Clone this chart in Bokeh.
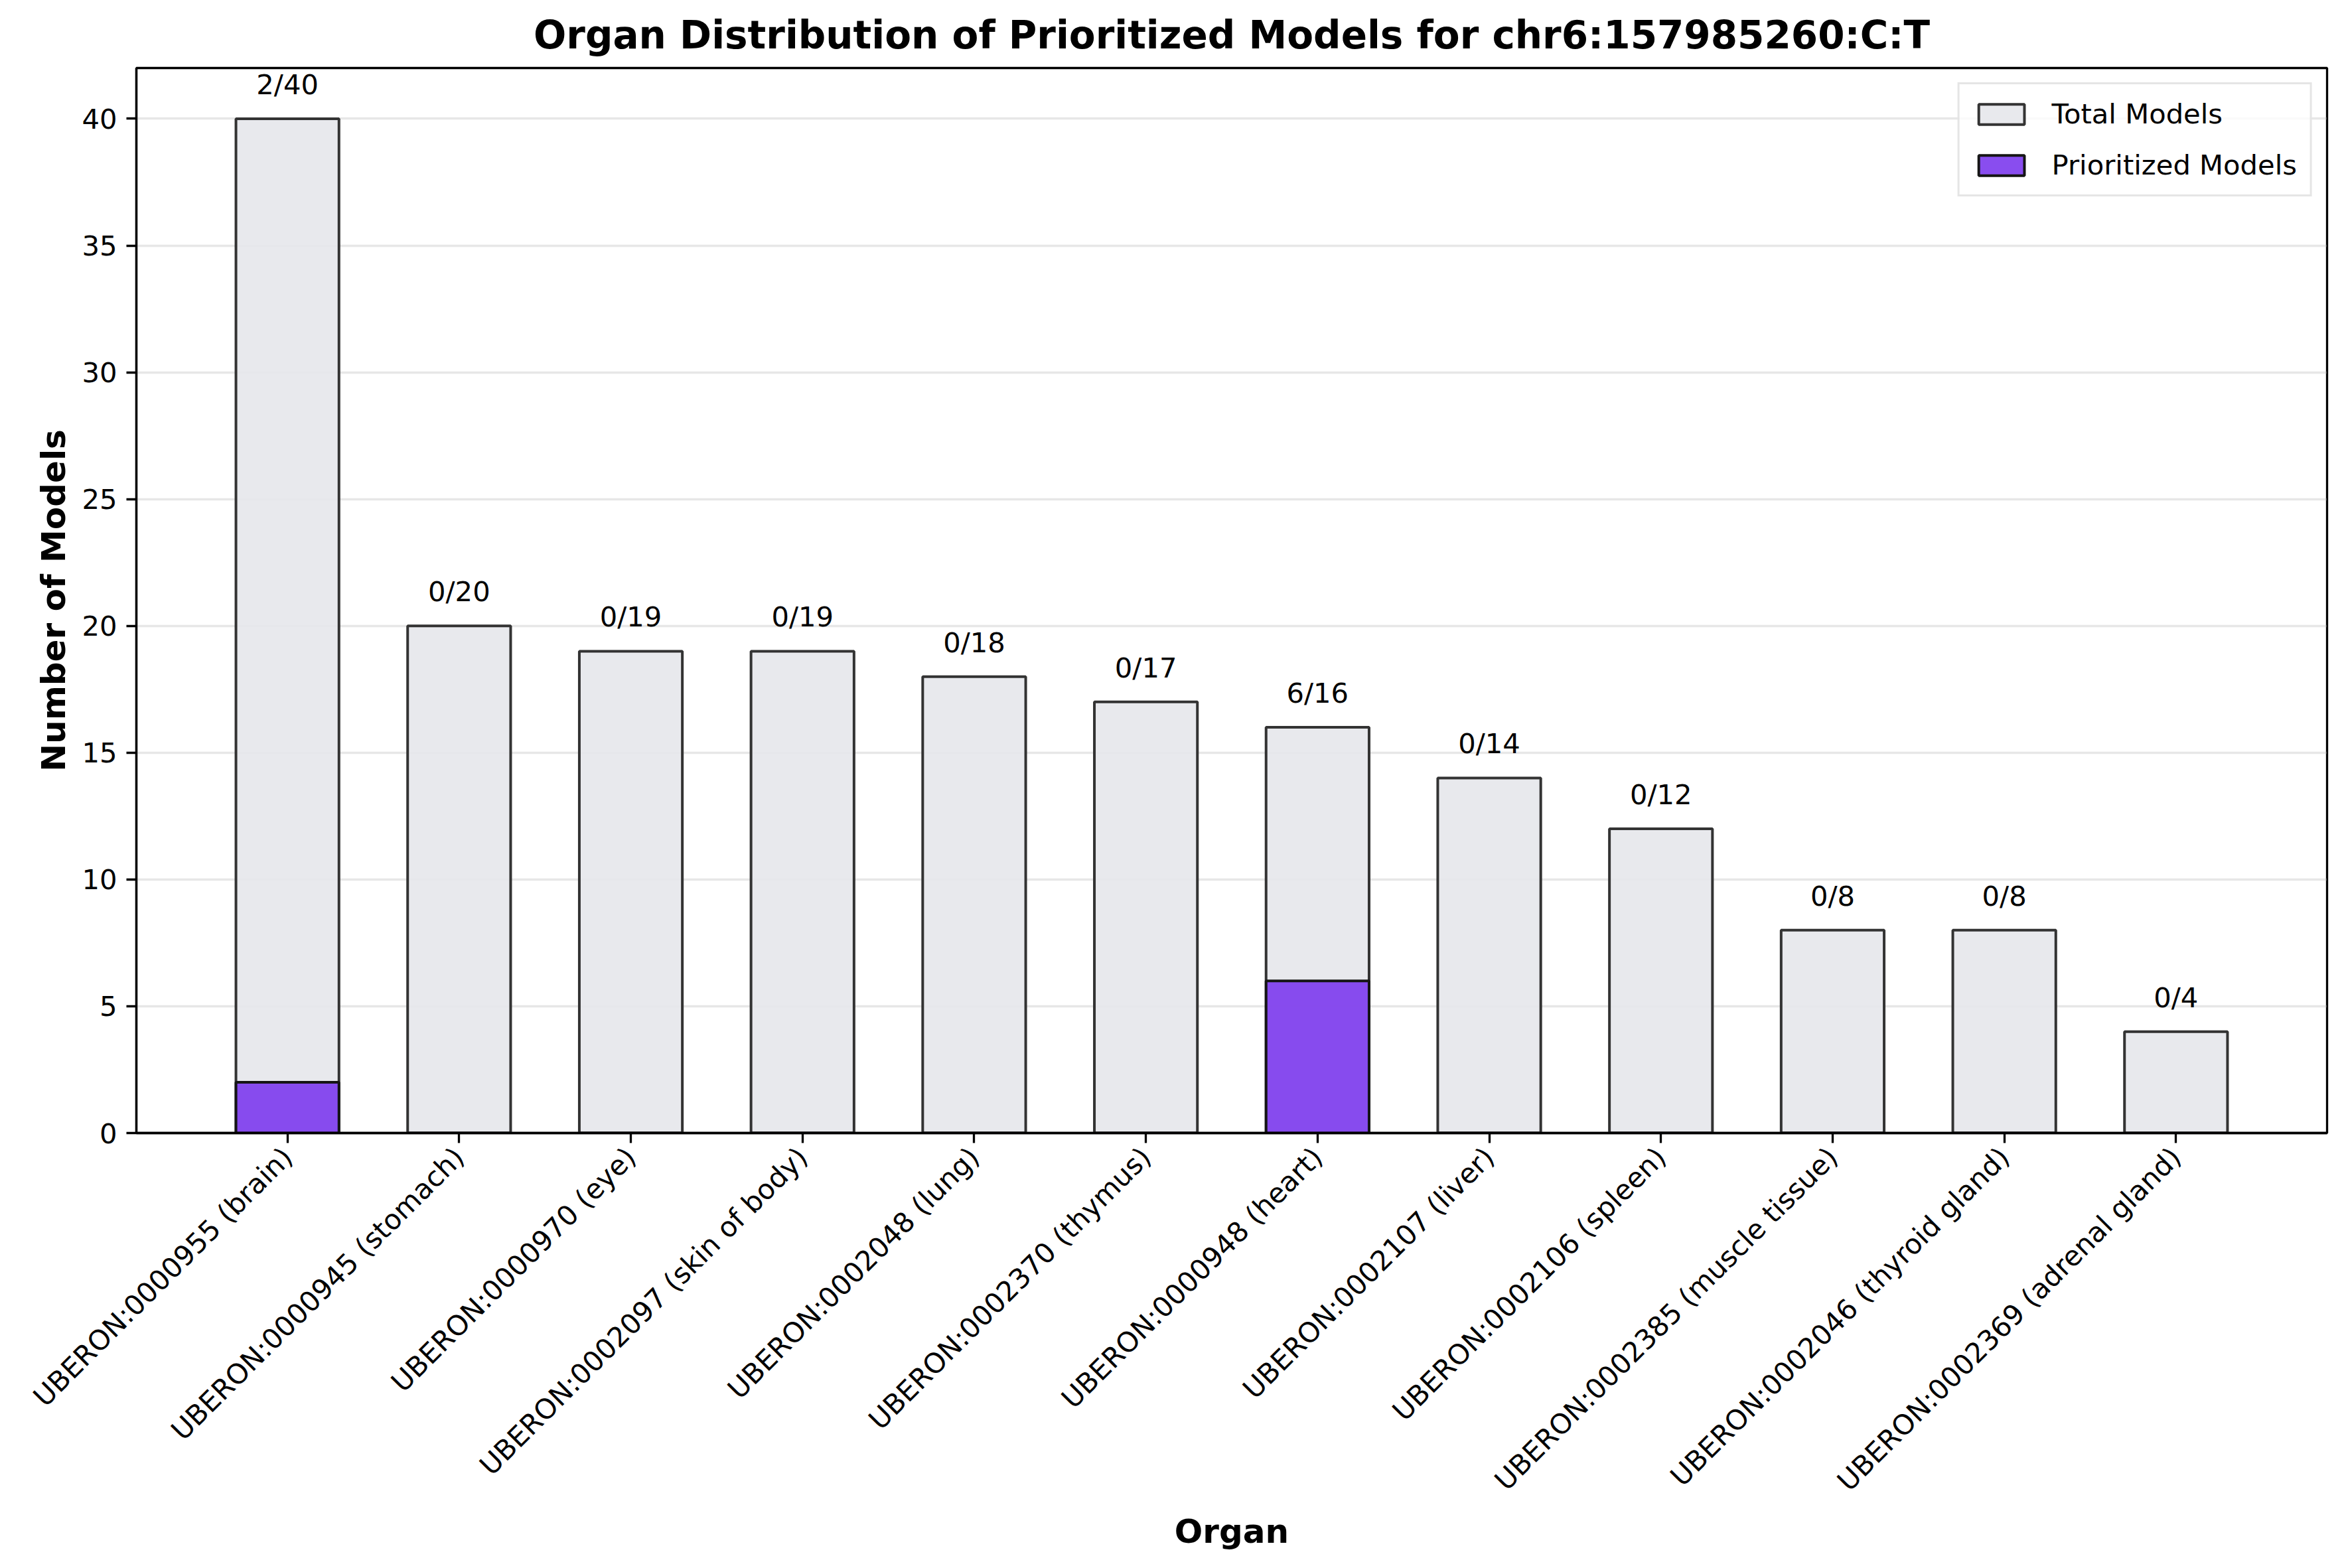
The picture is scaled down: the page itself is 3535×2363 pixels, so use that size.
import math
from bokeh.plotting import figure
from bokeh.models import Range1d, FixedTicker, ColumnDataSource, LabelSet, Legend, LegendItem
from bokeh.core.properties import value
from bokeh.embed import file_html
from bokeh.resources import INLINE

organs = [
    "UBERON:0000955 (brain)",
    "UBERON:0000945 (stomach)",
    "UBERON:0000970 (eye)",
    "UBERON:0002097 (skin of body)",
    "UBERON:0002048 (lung)",
    "UBERON:0002370 (thymus)",
    "UBERON:0000948 (heart)",
    "UBERON:0002107 (liver)",
    "UBERON:0002106 (spleen)",
    "UBERON:0002385 (muscle tissue)",
    "UBERON:0002046 (thyroid gland)",
    "UBERON:0002369 (adrenal gland)",
]
total_models = [40, 20, 19, 19, 18, 17, 16, 14, 12, 8, 8, 4]
prioritized_models = [2, 0, 0, 0, 0, 0, 6, 0, 0, 0, 0, 0]
y_ticks = [0, 5, 10, 15, 20, 25, 30, 35, 40]

FONT = "DejaVu Sans"
idx = list(range(len(organs)))
labels = [f"{p}/{t}" for p, t in zip(prioritized_models, total_models)]

src = ColumnDataSource(dict(
    x=idx, total=total_models, prio=prioritized_models,
    label=labels, label_y=[t + 0.97 for t in total_models],
))

p = figure(
    width=3519, height=2347,
    x_range=Range1d(-0.88, 11.88), y_range=Range1d(0, 42),
    output_backend="svg", toolbar_location=None,
    min_border_left=205, min_border_right=13, min_border_top=99, min_border_bottom=640,
    title="Organ Distribution of Prioritized Models for chr6:157985260:C:T",
)
p.title.align = "center"
p.title.text_font = FONT
p.title.text_font_size = "58px"
p.title.text_font_style = "bold"
p.title.text_color = "black"
p.title.standoff = 32

r_total = p.vbar(x="x", top="total", width=0.6, source=src,
                 fill_color="#e5e7eb", fill_alpha=0.9,
                 line_color="#333333", line_width=4)
r_prio = p.vbar(x="x", top="prio", width=0.6, source=src,
                fill_color="#7c3aed", fill_alpha=0.9,
                line_color="#151515", line_width=4)

lbl = LabelSet(x="x", y="label_y", text="label", source=src,
               text_align="center", text_baseline="alphabetic",
               text_font=value(FONT), text_font_size=value("41.7px"), text_color="black")
p.add_layout(lbl)

# axes
p.xaxis.ticker = FixedTicker(ticks=idx)
p.xaxis.major_label_overrides = {i: o for i, o in zip(idx, organs)}
p.xaxis.major_label_orientation = math.pi / 4
p.yaxis.ticker = FixedTicker(ticks=y_ticks)
for ax in (p.xaxis, p.yaxis):
    ax.major_label_text_font = FONT
    ax.major_label_text_font_size = "41.7px"
    ax.major_label_text_color = "black"
    ax.axis_label_text_font = FONT
    ax.axis_label_text_font_size = "50px"
    ax.axis_label_text_font_style = "bold"
    ax.axis_label_text_color = "black"
    ax.axis_line_width = 3.3
    ax.axis_line_color = "black"
    ax.major_tick_line_width = 3.3
    ax.major_tick_line_color = "black"
    ax.major_tick_out = 15
    ax.major_tick_in = 0
    ax.minor_tick_line_color = None
    ax.major_label_standoff = 14
p.xaxis.axis_label = "Organ"
p.yaxis.axis_label = "Number of Models"
p.xaxis.axis_label_standoff = 2
p.yaxis.axis_label_standoff = 10

p.xgrid.grid_line_color = None
p.ygrid.grid_line_color = "#b0b0b0"
p.ygrid.grid_line_alpha = 0.3
p.ygrid.grid_line_width = 3.3

p.outline_line_color = "black"
p.outline_line_width = 3.3
p.background_fill_color = "white"

legend = Legend(items=[
    LegendItem(label="Total Models", renderers=[r_total]),
    LegendItem(label="Prioritized Models", renderers=[r_prio]),
], location="top_right")
legend.label_text_font = FONT
legend.label_text_font_size = "41.7px"
legend.label_text_color = "black"
legend.glyph_width = 86
legend.glyph_height = 38
legend.label_height = 48
legend.spacing = 28
legend.label_standoff = 33
legend.padding = 20
legend.margin = 22
legend.border_line_color = "#cccccc"
legend.border_line_width = 3
legend.background_fill_alpha = 0.8
p.add_layout(legend)

open("out.html", "w").write(file_html(p, INLINE))
